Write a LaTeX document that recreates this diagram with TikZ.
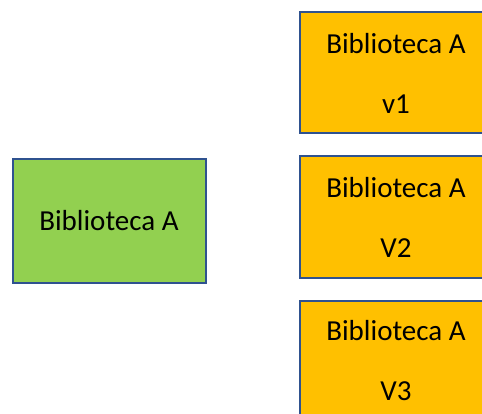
\documentclass[tikz,border=0pt]{standalone}
\usepackage{fontspec}
\setmainfont{Carlito}
\usetikzlibrary{positioning}
\definecolor{LibGreen}{RGB}{146,208,80}
\definecolor{LibOrange}{RGB}{255,192,0}
\definecolor{EdgeBlue}{RGB}{47,82,143}
\tikzset{
  libbox/.style={draw=EdgeBlue,line width=2pt,rectangle,
                 minimum width=193pt,minimum height=121pt,
                 font=\fontsize{29}{35}\selectfont,align=center},
  gbox/.style={libbox,fill=LibGreen},
  obox/.style={libbox,fill=LibOrange},
}

\begin{document}
\begin{tikzpicture}[x=1pt,y=1pt,node distance=21pt]
  \useasboundingbox (0,0) rectangle (482,-414);
  \clip (0,0) rectangle (482,-414);
  \node[gbox,minimum height=123pt] (base) at (109,-221) {Biblioteca A};
  \node[obox] (va) at (396,-73) {Biblioteca A\\[25pt]v1};
  \node[obox,below=of va] (vb) {Biblioteca A\\[25pt]V2};
  \node[obox,below=of vb] (vc) {Biblioteca A\\[25pt]V3};
\end{tikzpicture}
\end{document}
